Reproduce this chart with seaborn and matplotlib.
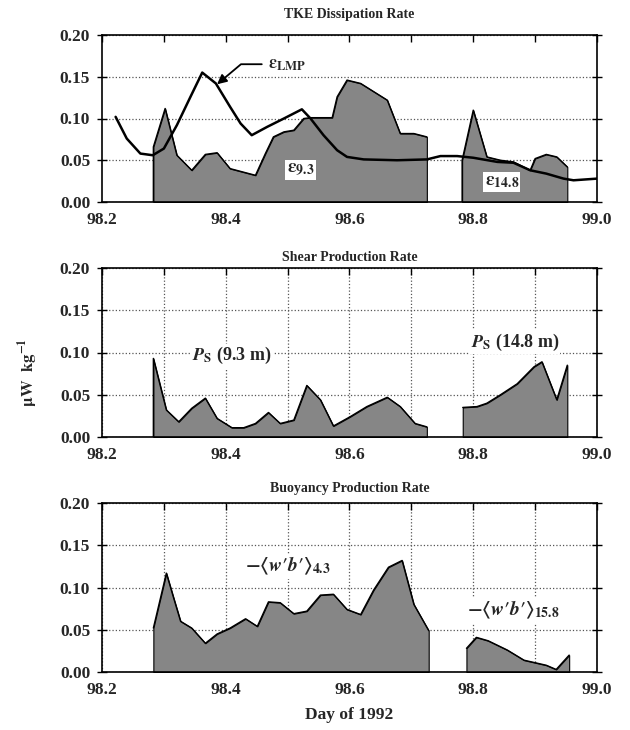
import numpy as np
import pandas as pd
import matplotlib
matplotlib.use("Agg")
import matplotlib.pyplot as plt
import seaborn as sns

# ---------------- data ----------------
# TKE dissipation, 9.3 m
eps93_day = [98.283, 98.283, 98.302, 98.321, 98.345, 98.367, 98.386, 98.407, 98.448, 98.464,
             98.477, 98.494, 98.510, 98.526, 98.537, 98.572, 98.580, 98.596, 98.618, 98.661,
             98.682, 98.704, 98.725]
eps93_val = [0.000, 0.066, 0.112, 0.056, 0.038, 0.057, 0.059, 0.040, 0.032, 0.058,
             0.078, 0.084, 0.086, 0.100, 0.101, 0.101, 0.126, 0.146, 0.142, 0.122,
             0.082, 0.082, 0.078]
# TKE dissipation, 14.8 m
eps148_day = [98.782, 98.782, 98.800, 98.822, 98.844, 98.865, 98.892, 98.900, 98.918, 98.935, 98.952]
eps148_val = [0.000, 0.050, 0.110, 0.054, 0.050, 0.048, 0.038, 0.052, 0.057, 0.054, 0.042]
# LMP dissipation line
lmp_day = [98.222, 98.240, 98.262, 98.282, 98.300, 98.321, 98.343, 98.362, 98.384, 98.407,
           98.424, 98.442, 98.467, 98.494, 98.523, 98.537, 98.558, 98.580, 98.596, 98.623,
           98.677, 98.725, 98.747, 98.774, 98.800, 98.839, 98.865, 98.892, 98.918, 98.946,
           98.962, 99.000]
lmp_val = [0.102, 0.076, 0.058, 0.056, 0.064, 0.092, 0.126, 0.155, 0.142, 0.114,
           0.094, 0.080, 0.090, 0.100, 0.111, 0.100, 0.080, 0.062, 0.054, 0.051,
           0.050, 0.051, 0.055, 0.055, 0.053, 0.048, 0.047, 0.038, 0.034, 0.028,
           0.026, 0.028]
# Shear production, 9.3 m
ps93_day = [98.283, 98.283, 98.304, 98.324, 98.345, 98.367, 98.386, 98.410, 98.429, 98.448,
            98.469, 98.488, 98.510, 98.531, 98.553, 98.574, 98.601, 98.628, 98.661, 98.682,
            98.706, 98.725]
ps93_val = [0.000, 0.093, 0.032, 0.018, 0.034, 0.046, 0.022, 0.011, 0.011, 0.016,
            0.029, 0.016, 0.020, 0.061, 0.044, 0.013, 0.024, 0.036, 0.047, 0.036,
            0.016, 0.012]
# Shear production, 14.8 m
ps148_day = [98.783, 98.806, 98.822, 98.844, 98.871, 98.898, 98.911, 98.935, 98.952]
ps148_val = [0.035, 0.036, 0.040, 0.050, 0.063, 0.083, 0.089, 0.044, 0.085]
# Buoyancy production, 4.3 m
b43_day = [98.283, 98.304, 98.316, 98.327, 98.345, 98.367, 98.386, 98.407, 98.432, 98.451,
           98.469, 98.488, 98.510, 98.531, 98.553, 98.574, 98.596, 98.618, 98.639, 98.663,
           98.685, 98.704, 98.728]
b43_val = [0.052, 0.117, 0.087, 0.060, 0.052, 0.034, 0.045, 0.052, 0.063, 0.054,
           0.083, 0.082, 0.069, 0.072, 0.091, 0.092, 0.074, 0.068, 0.097, 0.124,
           0.132, 0.080, 0.049]
# Buoyancy production, 15.8 m
b158_day = [98.789, 98.805, 98.824, 98.855, 98.882, 98.900, 98.918, 98.934, 98.955]
b158_val = [0.028, 0.041, 0.037, 0.026, 0.014, 0.011, 0.008, 0.003, 0.020]

titles = ["TKE Dissipation Rate", "Shear Production Rate", "Buoyancy Production Rate"]
xticks = [98.2, 98.3, 98.4, 98.5, 98.6, 98.7, 98.8, 98.9, 99.0]
xticklabels = ["98.2", "", "98.4", "", "98.6", "", "98.8", "", "99.0"]
yticks = [0.00, 0.05, 0.10, 0.15, 0.20]
yticklabels = ["0.00", "0.05", "0.10", "0.15", "0.20"]

# ---------------- style ----------------
sns.set_theme(style="white")
plt.rcParams['font.family'] = ['Liberation Serif', 'DejaVu Serif']
plt.rcParams['mathtext.fontset'] = 'stix'
plt.rcParams['font.weight'] = 'bold'

FILL = "#868686"

fig = plt.figure(figsize=(6.3, 7.3), dpi=100)
left, width = 102 / 630, 495 / 630
ax_specs = [(35, 202), (268, 437), (503, 672)]
title_pads = [12, 5, 8]
axes = []
for top, bot in ax_specs:
    axes.append(fig.add_axes([left, 1 - bot / 730, width, (bot - top) / 730]))


def area(ax, d, v):
    dfa = pd.DataFrame({"day": d, "val": v})
    ax.fill_between(dfa["day"], dfa["val"], 0, color=FILL, edgecolor="black", linewidth=0.8, zorder=2)
    sns.lineplot(data=dfa, x="day", y="val", ax=ax, color="black", lw=1.0,
                 estimator=None, sort=False, zorder=3)


for i, ax in enumerate(axes):
    ax.set_xlim(98.2, 99.0)
    ax.set_ylim(0, 0.2)
    ax.set_xticks(xticks)
    ax.set_xticklabels(xticklabels, fontsize=12.5, fontweight="bold")
    ax.set_yticks(yticks)
    ax.set_yticklabels(yticklabels, fontsize=12.5, fontweight="bold")
    ax.tick_params(axis="both", which="both", top=True, right=True, direction="in",
                   length=5, width=1, color="black", pad=7)
    ax.tick_params(axis="y", which="both", left=True, direction="inout", length=7, pad=5)
    for s in ax.spines.values():
        s.set_color("black")
        s.set_linewidth(1.2)
    if i == 0:
        ax.grid(True, axis="y", linestyle=":", color="#555555", linewidth=0.9, zorder=0)
    else:
        ax.grid(True, linestyle=":", color="#555555", linewidth=0.9, zorder=0)
    ax.set_axisbelow(True)
    ax.set_title(titles[i], fontsize=10, fontweight="bold", pad=title_pads[i])

# Panel 1
ax = axes[0]
area(ax, eps93_day, eps93_val)
area(ax, eps148_day, eps148_val)
dfl = pd.DataFrame({"day": lmp_day, "val": lmp_val})
sns.lineplot(data=dfl, x="day", y="val", ax=ax, color="black", lw=1.8,
             estimator=None, sort=False, zorder=4)
ax.annotate(r"$\mathrm{\varepsilon_{\mathbf{LMP}}}$", xy=(98.386, 0.141), xytext=(98.468, 0.165),
            fontsize=13, ha="left", va="center",
            arrowprops=dict(arrowstyle="-|>", color="black", lw=1.3, mutation_scale=14,
                            shrinkA=2, shrinkB=0,
                            connectionstyle="angle,angleA=0,angleB=40,rad=0"), zorder=6)
ax.text(98.521, 0.038, r"$\mathrm{\varepsilon}_{\mathbf{9.3}}$", fontsize=14, ha="center", va="center",
        bbox=dict(facecolor="white", edgecolor="none", pad=1), zorder=6)
ax.text(98.846, 0.024, r"$\mathrm{\varepsilon}_{\mathbf{14.8}}$", fontsize=14, ha="center", va="center",
        bbox=dict(facecolor="white", edgecolor="none", pad=1), zorder=6)
ax.set_xlabel("")
ax.set_ylabel("")

# Panel 2
ax = axes[1]
area(ax, ps93_day, ps93_val)
area(ax, ps148_day, ps148_val)
ax.text(98.41, 0.096, r"$\mathbf{\mathit{P}}_{\mathrm{S}}$ (9.3 m)",
        fontsize=13, ha="center", va="center", fontweight="bold",
        bbox=dict(facecolor="white", edgecolor="none", pad=1), zorder=6)
ax.text(98.867, 0.112, r"$\mathbf{\mathit{P}}_{\mathrm{S}}$ (14.8 m)",
        fontsize=13, ha="center", va="center", fontweight="bold",
        bbox=dict(facecolor="white", edgecolor="none", pad=1), zorder=6)
ax.set_xlabel("")
ax.set_ylabel("")

# Panel 3
ax = axes[2]
area(ax, b43_day, b43_val)
area(ax, b158_day, b158_val)
ax.text(98.50, 0.125, "$-\\langle w\u2032b\u2032\\rangle_{\\mathbf{4.3}}$", fontsize=14,
        ha="center", va="center",
        bbox=dict(facecolor="white", edgecolor="none", pad=1), zorder=6)
ax.text(98.865, 0.073, "$-\\langle w\u2032b\u2032\\rangle_{\\mathbf{15.8}}$", fontsize=14,
        ha="center", va="center",
        bbox=dict(facecolor="white", edgecolor="none", pad=1), zorder=6)
ax.set_xlabel("Day of 1992", fontsize=12.5, fontweight="bold", labelpad=7)
ax.set_ylabel("")

fig.text(28 / 630, 1 - 372 / 730, r"$\mathrm{\mu W\ \ kg^{-1}}$", rotation=90, fontsize=12,
         ha="center", va="center")

fig.savefig("out.png", dpi=100)
